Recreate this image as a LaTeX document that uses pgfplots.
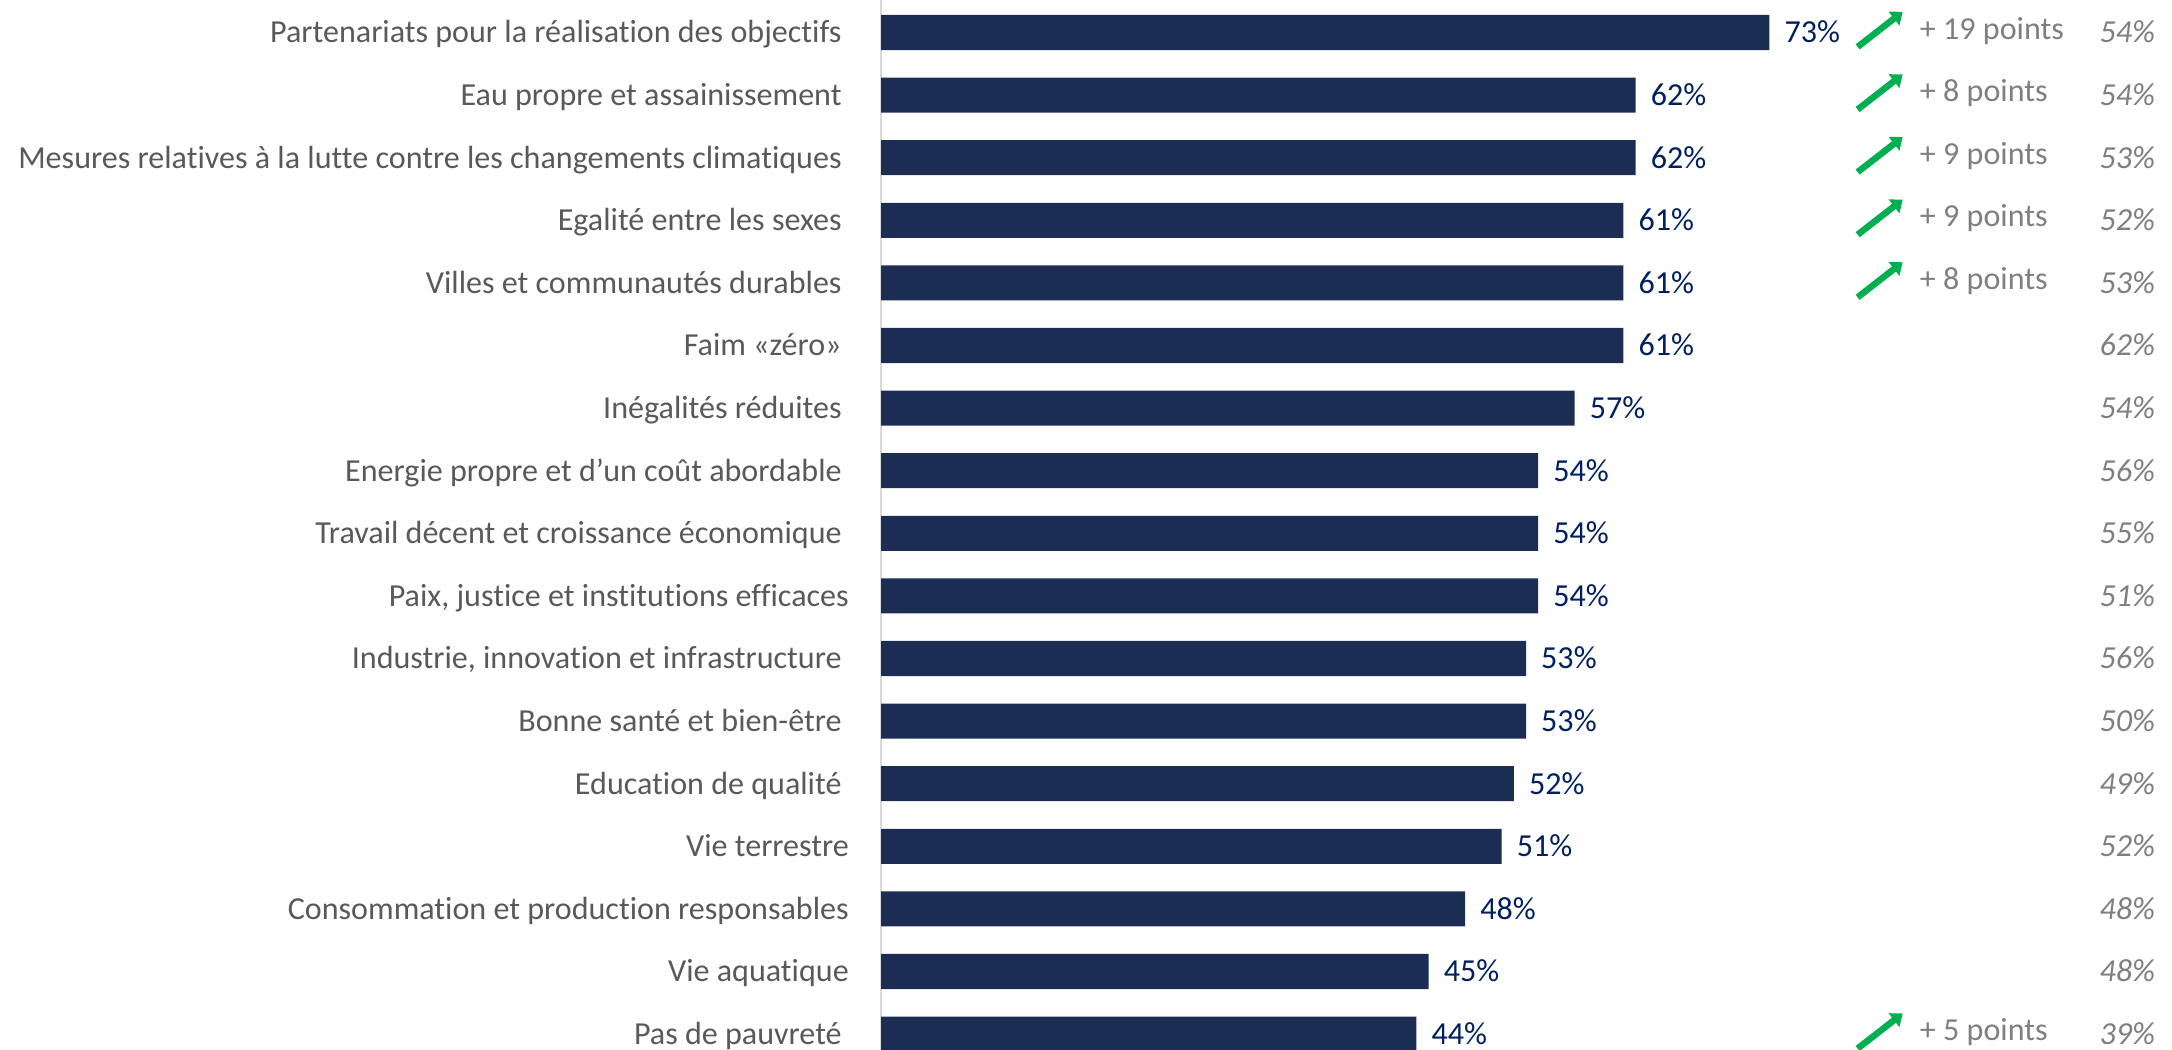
\documentclass[border=0pt]{standalone}
\usepackage{pgfplots}
\pgfplotsset{compat=1.18}
\usepackage{pgfplotstable}
\usetikzlibrary{arrows.meta}
\usepackage{fontspec}
\setmainfont{Carlito}[Ligatures=NoCommon]

\definecolor{barblue}{RGB}{28,45,84}
\definecolor{valblue}{RGB}{0,32,96}
\definecolor{labgray}{RGB}{89,89,89}
\definecolor{ptgray}{RGB}{127,127,127}
\definecolor{upgreen}{RGB}{0,176,80}
\definecolor{axgray}{RGB}{217,217,217}

% row, score
\pgfplotstableread{
row val
0 73
1 62
2 62
3 61
4 61
5 61
6 57
7 54
8 54
9 54
10 53
11 53
12 52
13 51
14 48
15 45
16 44
}\scores

% previous wave (right column)
\pgfplotstableread{
row prev
0 54
1 54
2 53
3 52
4 53
5 62
6 54
7 56
8 55
9 51
10 56
11 50
12 49
13 52
14 48
15 48
16 39
}\prevwave

% rows with a significant rise
\pgfplotstableread{
row gain
0 19
1 8
2 9
3 9
4 8
16 5
}\gains

\newcommand{\tsp}{\hspace*{7.2bp}}
\newcommand{\chartfont}{\fontsize{32.2}{38}\selectfont}

\begin{document}
\begin{tikzpicture}
\begin{axis}[
    at={(881bp,0bp)}, anchor=south west,
    scale only axis,
    width=1291bp, height=1050bp,
    xmin=0, xmax=106.08,
    ymin=-0.519, ymax=16.254,
    y dir=reverse,
    clip=false,
    axis x line=none,
    axis y line=left,
    axis line style={axgray, line width=1.5bp, -},
    y axis line style={-},
    ytick={0,...,16},
    major tick length=0pt,
    ytick style={draw=none},
    /pgf/number format/assume math mode=true,
    yticklabels={
        Partenariats pour la réalisation des objectifs\tsp,
        Eau propre et assainissement\tsp,
        Mesures relatives à la lutte contre les changements climatiques\tsp,
        Egalité entre les sexes\tsp,
        Villes et communautés durables\tsp,
        Faim «zéro»\tsp,
        Inégalités réduites\tsp,
        Energie propre et d’un coût abordable\tsp,
        Travail décent et croissance économique\tsp,
        {Paix, justice et institutions efficaces},
        {Industrie, innovation et infrastructure}\tsp,
        Bonne santé et bien-être\tsp,
        Education de qualité\tsp,
        Vie terrestre,
        Consommation et production responsables,
        Vie aquatique,
        Pas de pauvreté\tsp
    },
    yticklabel style={anchor=east, inner sep=0pt, xshift=-32bp,
        text height=20.8bp, text depth=0pt,
        font=\chartfont, text=labgray},
]
% bars
\addplot[xbar, bar width=0.56, fill=barblue, draw=none,
    nodes near coords={\pgfmathprintnumber{\pgfplotspointmeta}\%},
    point meta=x,
    every node near coord/.append style={anchor=west, inner sep=0pt,
        xshift=15bp, text height=20.8bp, text depth=0pt,
        font=\chartfont, text=valblue}]
    table[x=val, y=row] {\scores};

% right column: previous wave
\addplot[only marks, mark=none,
    nodes near coords={\itshape\pgfmathprintnumber{\pgfplotspointmeta}\%},
    point meta=\thisrow{prev},
    every node near coord/.append style={anchor=east, inner sep=0pt,
        text height=20.8bp, text depth=0pt,
        font=\chartfont, text=ptgray}]
    table[x expr=104.7, y=row] {\prevwave};

% gain texts
\addplot[only marks, mark=none,
    nodes near coords={+ \pgfmathprintnumber{\pgfplotspointmeta} points},
    point meta=\thisrow{gain},
    every node near coord/.append style={anchor=west, inner sep=0pt,
        text height=20.8bp, text depth=0pt,
        font=\chartfont, text=ptgray}]
    table[x expr=85.35, y expr=\thisrow{row}-0.06] {\gains};

% green arrows
\addplot[upgreen, line width=6.5bp, -{Triangle[length=11bp,width=17bp]},
    quiver={u=3.7, v=-0.56}]
    table[x expr=80.25, y expr=\thisrow{row}+0.23] {\gains};
\end{axis}
\pgfresetboundingbox
\path (0,0) rectangle (2172bp,1050bp);
\end{tikzpicture}
\end{document}
